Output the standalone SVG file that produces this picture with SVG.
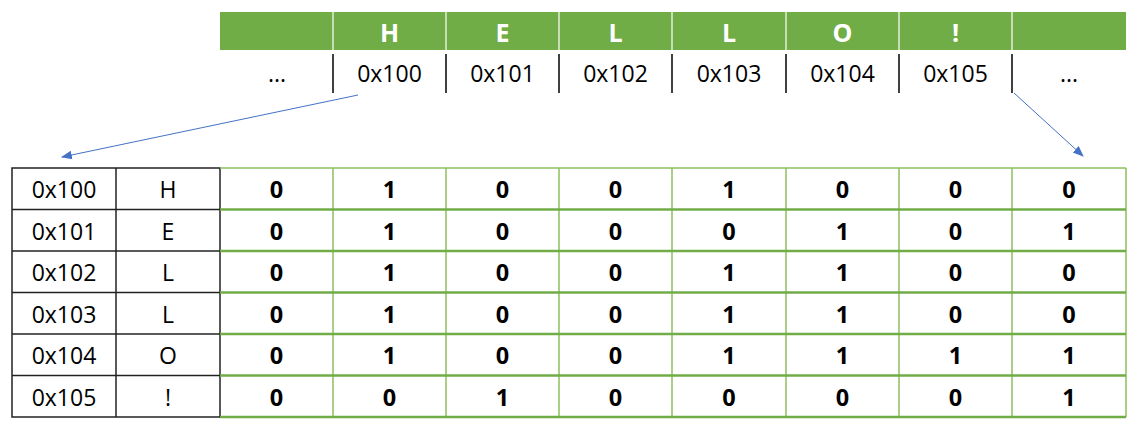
<svg xmlns="http://www.w3.org/2000/svg" width="1141" height="431" viewBox="0 0 1141 431">
<style>
text{font-family:"Open Sans","Noto Sans","DejaVu Sans",sans-serif;text-anchor:middle;dominant-baseline:central}
.hdr{fill:#fff;font-weight:bold;font-size:25px}
.addr{fill:#000;font-size:23px}
.bit{fill:#000;font-weight:bold;font-size:23.5px}
.sep{stroke:#000;stroke-width:1.5}
.gv{stroke:#8cbf5f;stroke-width:1.5}
.gh{stroke:#70ad47;stroke-width:2.5}
.bk{stroke:#222;stroke-width:1.5;fill:none}
.conn{stroke:#4472c4;stroke-width:1;fill:none;marker-end:url(#ah)}
</style>
<defs>
<marker id="ah" viewBox="0 0 10 10" refX="9" refY="5" markerWidth="11" markerHeight="11" markerUnits="userSpaceOnUse" orient="auto">
<path d="M0,1 L10,5 L0,9 z" fill="#4472c4"/>
</marker>
</defs>
<rect width="1141" height="431" fill="#fff"/>
<g id="memory-strip">
<rect x="220" y="12" width="906" height="38" fill="#70ad47"/>
<g stroke="#e2efd9" stroke-width="1.5">
<line x1="333" y1="12" x2="333" y2="50"/><line x1="446" y1="12" x2="446" y2="50"/><line x1="559" y1="12" x2="559" y2="50"/><line x1="672" y1="12" x2="672" y2="50"/><line x1="786" y1="12" x2="786" y2="50"/><line x1="899" y1="12" x2="899" y2="50"/><line x1="1012" y1="12" x2="1012" y2="50"/>
</g>
<text class="hdr" x="389.5" y="32">H</text><text class="hdr" x="502.5" y="32">E</text><text class="hdr" x="615.5" y="32">L</text><text class="hdr" x="729" y="32">L</text><text class="hdr" x="842.5" y="32">O</text><text class="hdr" x="955.5" y="32">!</text>
<g class="sep">
<line x1="333" y1="54" x2="333" y2="93"/><line x1="446" y1="54" x2="446" y2="93"/><line x1="559" y1="54" x2="559" y2="93"/><line x1="672" y1="54" x2="672" y2="93"/><line x1="786" y1="54" x2="786" y2="93"/><line x1="899" y1="54" x2="899" y2="93"/><line x1="1012" y1="54" x2="1012" y2="93"/>
</g>
<text class="addr" x="277" y="73">...</text>
<text class="addr" x="389.5" y="73">0x100</text><text class="addr" x="502.5" y="73">0x101</text><text class="addr" x="615.5" y="73">0x102</text><text class="addr" x="729" y="73">0x103</text><text class="addr" x="842.5" y="73">0x104</text><text class="addr" x="955.5" y="73">0x105</text>
<text class="addr" x="1069" y="73">...</text>
</g>
<g id="connectors">
<line class="conn" x1="358" y1="95" x2="62" y2="157"/>
<line class="conn" x1="1014" y1="93" x2="1083" y2="156"/>
</g>
<g id="address-table">
<rect class="bk" x="12" y="168" width="208" height="249"/>
<line class="bk" x1="116" y1="168" x2="116" y2="417"/>
<g class="bk"><line x1="12" y1="209.5" x2="220" y2="209.5"/><line x1="12" y1="251" x2="220" y2="251"/><line x1="12" y1="292.5" x2="220" y2="292.5"/><line x1="12" y1="334" x2="220" y2="334"/><line x1="12" y1="375.5" x2="220" y2="375.5"/></g>
<text class="addr" x="64" y="189">0x100</text><text class="addr" x="168" y="189">H</text>
<text class="addr" x="64" y="230.5">0x101</text><text class="addr" x="168" y="230.5">E</text>
<text class="addr" x="64" y="272">0x102</text><text class="addr" x="168" y="272">L</text>
<text class="addr" x="64" y="313.5">0x103</text><text class="addr" x="168" y="313.5">L</text>
<text class="addr" x="64" y="355">0x104</text><text class="addr" x="168" y="355">O</text>
<text class="addr" x="64" y="396.5">0x105</text><text class="addr" x="168" y="396.5">!</text>
</g>
<g id="bits-table">
<g class="gv"><line x1="220" y1="168" x2="1126" y2="168"/>
<line x1="333" y1="168" x2="333" y2="417"/><line x1="446" y1="168" x2="446" y2="417"/><line x1="559" y1="168" x2="559" y2="417"/><line x1="672" y1="168" x2="672" y2="417"/><line x1="786" y1="168" x2="786" y2="417"/><line x1="899" y1="168" x2="899" y2="417"/><line x1="1012" y1="168" x2="1012" y2="417"/><line x1="1126" y1="168" x2="1126" y2="417"/></g>
<g class="gh"><line x1="220" y1="209.5" x2="1126" y2="209.5"/><line x1="220" y1="251" x2="1126" y2="251"/><line x1="220" y1="292.5" x2="1126" y2="292.5"/><line x1="220" y1="334" x2="1126" y2="334"/><line x1="220" y1="375.5" x2="1126" y2="375.5"/><line x1="220" y1="417" x2="1126" y2="417"/></g>
<g class="bit">
<text x="276.5" y="189">0</text><text x="389.5" y="189">1</text><text x="502.5" y="189">0</text><text x="615.5" y="189">0</text><text x="729" y="189">1</text><text x="842.5" y="189">0</text><text x="955.5" y="189">0</text><text x="1069" y="189">0</text>
<text x="276.5" y="230.5">0</text><text x="389.5" y="230.5">1</text><text x="502.5" y="230.5">0</text><text x="615.5" y="230.5">0</text><text x="729" y="230.5">0</text><text x="842.5" y="230.5">1</text><text x="955.5" y="230.5">0</text><text x="1069" y="230.5">1</text>
<text x="276.5" y="272">0</text><text x="389.5" y="272">1</text><text x="502.5" y="272">0</text><text x="615.5" y="272">0</text><text x="729" y="272">1</text><text x="842.5" y="272">1</text><text x="955.5" y="272">0</text><text x="1069" y="272">0</text>
<text x="276.5" y="313.5">0</text><text x="389.5" y="313.5">1</text><text x="502.5" y="313.5">0</text><text x="615.5" y="313.5">0</text><text x="729" y="313.5">1</text><text x="842.5" y="313.5">1</text><text x="955.5" y="313.5">0</text><text x="1069" y="313.5">0</text>
<text x="276.5" y="355">0</text><text x="389.5" y="355">1</text><text x="502.5" y="355">0</text><text x="615.5" y="355">0</text><text x="729" y="355">1</text><text x="842.5" y="355">1</text><text x="955.5" y="355">1</text><text x="1069" y="355">1</text>
<text x="276.5" y="396.5">0</text><text x="389.5" y="396.5">0</text><text x="502.5" y="396.5">1</text><text x="615.5" y="396.5">0</text><text x="729" y="396.5">0</text><text x="842.5" y="396.5">0</text><text x="955.5" y="396.5">0</text><text x="1069" y="396.5">1</text>
</g>
</g>
</svg>
